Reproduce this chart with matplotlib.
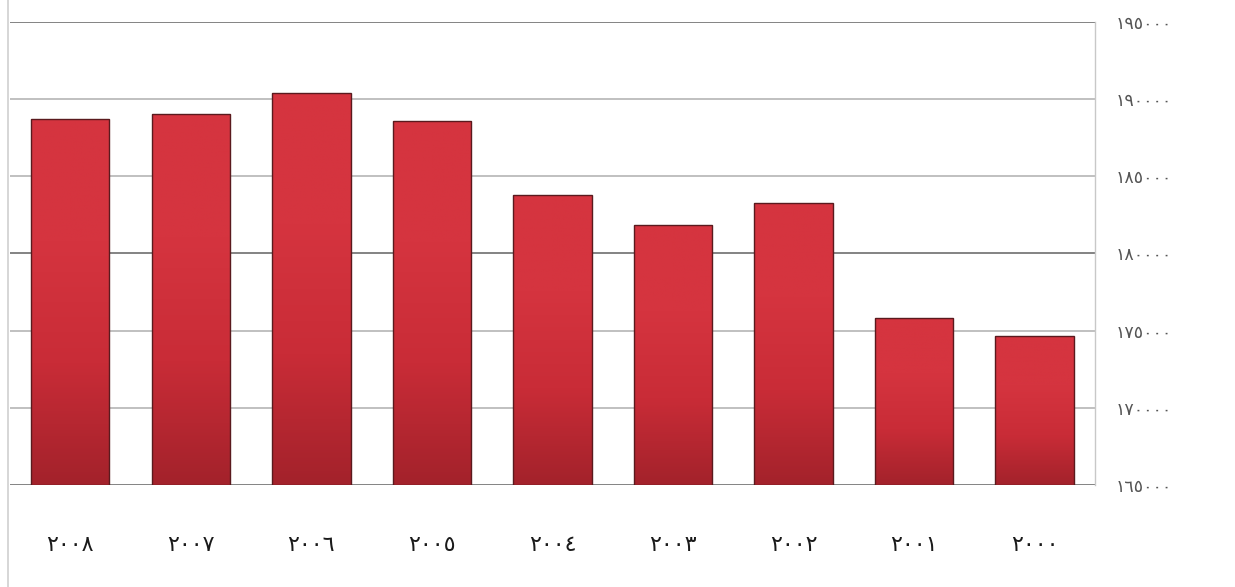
import matplotlib.pyplot as plt
import matplotlib.lines as mlines
import numpy as np

# data (right-to-left order as shown)
years = ['٢٠٠٨', '٢٠٠٧', '٢٠٠٦', '٢٠٠٥', '٢٠٠٤', '٢٠٠٣', '٢٠٠٢', '٢٠٠١', '٢٠٠٠']
values = [188700, 189050, 190400, 188600, 183800, 181850, 183300, 175850, 174650]
yticks = [165000, 170000, 175000, 180000, 185000, 190000, 195000]
ytick_labels = ['١٦٥٠٠٠', '١٧٠٠٠٠', '١٧٥٠٠٠', '١٨٠٠٠٠', '١٨٥٠٠٠', '١٩٠٠٠٠', '١٩٥٠٠٠']

plt.rcParams['font.family'] = ['DejaVu Sans']

fig = plt.figure(figsize=(12.35, 5.87), dpi=100)
ax = fig.add_axes([0.0081, 0.1738, 0.8785, 0.7887])

ymin, ymax = yticks[0], yticks[-1]
x = np.arange(len(years))
bars = ax.bar(x, np.array(values) - ymin, bottom=ymin, width=0.65,
              color='#c52833', edgecolor='#5a1a1e', linewidth=1.0, zorder=3)

# vertical gradient inside each bar, lighter rim at the top
grad = np.linspace(0, 1, 256).reshape(-1, 1)
cmap = plt.matplotlib.colors.LinearSegmentedColormap.from_list(
    'r', ['#a3222b', '#c92c37', '#d5343f', '#d5343f'])
for b in bars:
    x0, y0 = b.get_x(), b.get_y()
    im = ax.imshow(grad, extent=[x0, x0 + b.get_width(), y0, y0 + b.get_height()],
                   origin='lower', aspect='auto', cmap=cmap, zorder=3)
    im.set_clip_path(b)
    b.set_facecolor('none')
    b.set_zorder(4)

ax.set_xlim(-0.5, len(years) - 0.5)
ax.set_ylim(ymin, ymax)

# gridlines, darker every third
for i, t in enumerate(yticks):
    c = '#6e6e6e' if i % 3 == 0 else '#b5b5b5'
    ax.axhline(t, color=c, linewidth=1.2, zorder=1)

ax.yaxis.tick_right()
ax.set_yticks(yticks)
ax.set_yticklabels(ytick_labels, color='#555555', fontsize=12.5)
ax.tick_params(axis='y', length=0, pad=15)
ax.set_xticks(x)
ax.set_xticklabels(years, fontsize=16, color='#1a1a1a')
ax.tick_params(axis='x', length=0, pad=36)

for s in ['top', 'left', 'bottom']:
    ax.spines[s].set_visible(False)
ax.spines['right'].set_color('#c8c8c8')
ax.spines['right'].set_linewidth(1.0)

fig.add_artist(mlines.Line2D([0.0065, 0.0065], [0, 1], color='#d0d0d0',
                             linewidth=1.2, transform=fig.transFigure))

fig.savefig('out.png', dpi=100)
